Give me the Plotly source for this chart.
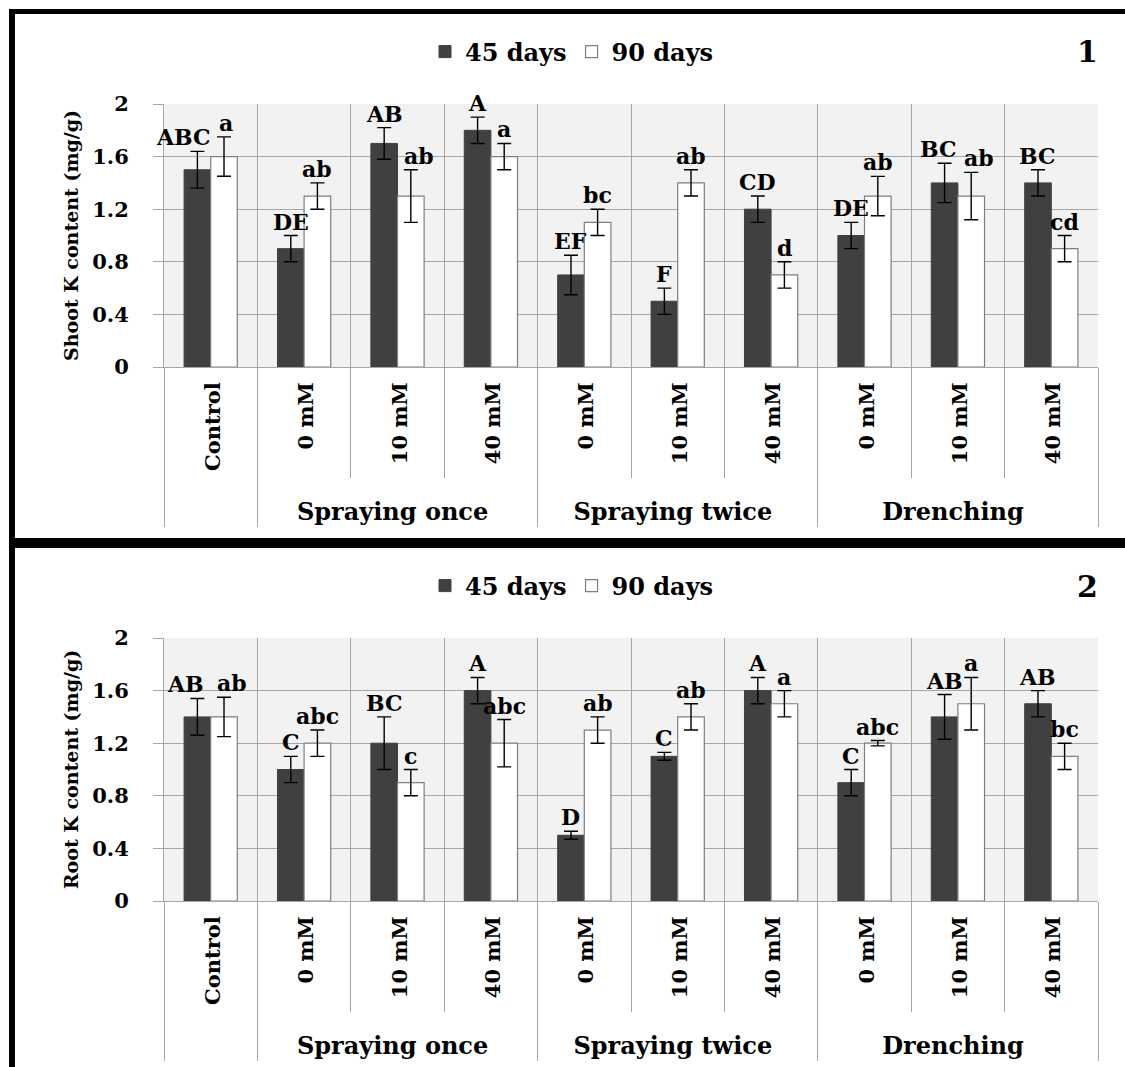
import plotly.graph_objects as go

# ---------------- data ----------------
groups = [" ", "Spraying once", "Spraying once", "Spraying once",
          "Spraying twice", "Spraying twice", "Spraying twice",
          "Drenching", "Drenching", "Drenching"]
treatments = ["Control", "0 mM", "10 mM", "40 mM",
              "0 mM", "10 mM", "40 mM",
              "0 mM", "10 mM", "40 mM"]
series_names = ["45 days", "90 days"]

shoot_45 = [1.5, 0.9, 1.7, 1.8, 0.7, 0.5, 1.2, 1.0, 1.4, 1.4]
shoot_45_err = [0.14, 0.1, 0.12, 0.1, 0.15, 0.1, 0.1, 0.1, 0.15, 0.1]
shoot_90 = [1.6, 1.3, 1.3, 1.6, 1.1, 1.4, 0.7, 1.3, 1.3, 0.9]
shoot_90_err = [0.15, 0.1, 0.2, 0.1, 0.1, 0.1, 0.1, 0.15, 0.18, 0.1]
shoot_45_letters = ["ABC", "DE", "AB", "A", "EF", "F", "CD", "DE", "BC", "BC"]
shoot_90_letters = ["a", "ab", "ab", "a", "bc", "ab", "d", "ab", "ab", "cd"]

root_45 = [1.4, 1.0, 1.2, 1.6, 0.5, 1.1, 1.6, 0.9, 1.4, 1.5]
root_45_err = [0.14, 0.1, 0.2, 0.1, 0.03, 0.03, 0.1, 0.1, 0.17, 0.1]
root_90 = [1.4, 1.2, 0.9, 1.2, 1.3, 1.4, 1.5, 1.2, 1.5, 1.1]
root_90_err = [0.15, 0.1, 0.1, 0.18, 0.1, 0.1, 0.1, 0.02, 0.2, 0.1]
root_45_letters = ["AB", "C", "BC", "A", "D", "C", "A", "C", "AB", "AB"]
root_90_letters = ["ab", "abc", "c", "abc", "ab", "ab", "a", "abc", "a", "bc"]

y_titles = ["Shoot K content (mg/g)", "Root K content (mg/g)"]
panel_labels = ["1", "2"]

# ---------------- layout constants ----------------
W, H = 1125, 1067
L, R = 164, 27
FONT = "DejaVu Serif"
DARK = "#404040"
GRID = "#a6a6a6"
BARGAP = 0.43

def py(p):  # pixel y -> paper
    return 1 - p / H

def px(p):  # pixel x -> paper
    return (p - L) / (W - L - R)

# small horizontal nudges (px) for letters that would collide: (panel, series, index)
nudges = {(0, 0, 0): -14, (0, 1, 0): 2, (0, 1, 2): 8, (0, 0, 8): -6, (0, 1, 8): 8,
          (1, 0, 0): -12, (1, 1, 0): 8}

panels = [
    dict(xa="x", ya="y", lg="legend", dom=[py(367), py(104)],
         v=[shoot_45, shoot_90], e=[shoot_45_err, shoot_90_err],
         t=[shoot_45_letters, shoot_90_letters], legy=py(52)),
    dict(xa="x2", ya="y2", lg="legend2", dom=[py(901), py(638)],
         v=[root_45, root_90], e=[root_45_err, root_90_err],
         t=[root_45_letters, root_90_letters], legy=py(586)),
]

# label sizes set per level (outer groups larger than inner treatments)
group_labels = [f"<span style='font-size:24px'>{g}</span>" for g in groups]
treat_labels = [f"<span style='font-size:21px'>{t}</span>" for t in treatments]

fig = go.Figure()
annotations = []
off = (1 - BARGAP) / 4
for k, p in enumerate(panels):
    styles = [dict(color=DARK, line=dict(color=DARK, width=1)),
              dict(color="white", line=dict(color="#7f7f7f", width=1.2))]
    for s in range(2):
        fig.add_trace(go.Bar(
            x=[group_labels, treat_labels], y=p["v"][s], name=series_names[s],
            marker=styles[s],
            error_y=dict(type="data", array=p["e"][s], color="black",
                         thickness=1.4, width=7),
            xaxis=p["xa"], yaxis=p["ya"], legend=p["lg"],
            showlegend=True,
        ))
        for i, (val, err, txt) in enumerate(zip(p["v"][s], p["e"][s], p["t"][s])):
            annotations.append(dict(
                x=i + (-off if s == 0 else off), y=val + err, text=txt,
                xref=p["xa"], yref=p["ya"], showarrow=False,
                yanchor="bottom", yshift=-1, xshift=nudges.get((k, s, i), 0),
                font=dict(family=FONT, size=22, color="black", weight="bold"),
            ))
    annotations.append(dict(
        x=px(1087), y=p["legy"], xref="paper", yref="paper",
        text=panel_labels[k], showarrow=False, xanchor="center", yanchor="middle",
        font=dict(family=FONT, size=30, color="black", weight="bold")))

axis_font = dict(family=FONT, size=28, color="black", weight="bold")
xaxis_common = dict(
    type="multicategory", tickangle=-90, range=[-0.5, 9.5],
    showgrid=True, gridcolor=GRID, gridwidth=1,
    tickson="boundaries", ticks="outside", ticklen=110, tickcolor=GRID, tickwidth=1,
    ticklabelstandoff=3,
    showline=True, linecolor=GRID, linewidth=1,
    showdividers=True, dividercolor=GRID, dividerwidth=1,
    tickfont=axis_font, automargin=False,
)
yaxis_common = dict(
    range=[0, 2], dtick=0.4, tick0=0, showgrid=True, gridcolor=GRID, gridwidth=1,
    ticks="outside", ticklen=10, tickcolor=GRID, showline=True, linecolor=GRID,
    tickfont=dict(family=FONT, size=21, color="black", weight="bold"),
    ticklabelstandoff=20,
    zeroline=False, automargin=False,
)

legend_common = dict(
    orientation="h", xanchor="center", yanchor="middle", x=px(572),
    font=dict(family=FONT, size=24, color="black", weight="bold"),
    itemwidth=30, bgcolor="rgba(0,0,0,0)", traceorder="normal",
)

shapes = [
    dict(type="rect", xref="paper", yref="paper", x0=px(9), x1=px(W + 5), y0=py(14), y1=py(9),
         fillcolor="black", line=dict(width=0)),
    dict(type="rect", xref="paper", yref="paper", x0=px(9), x1=px(15), y0=py(H + 5), y1=py(9),
         fillcolor="black", line=dict(width=0)),
    dict(type="rect", xref="paper", yref="paper", x0=px(9), x1=px(W + 5), y0=py(548), y1=py(538),
         fillcolor="black", line=dict(width=0)),
]

title_font = dict(family=FONT, size=19, color="black", weight="bold")
fig.update_layout(
    width=W, height=H,
    margin=dict(l=L, r=R, t=0, b=0, autoexpand=False),
    paper_bgcolor="white", plot_bgcolor="#f2f2f2",
    barmode="group", bargap=BARGAP, bargroupgap=0,
    xaxis=dict(anchor="y", domain=[0, 1], **xaxis_common),
    xaxis2=dict(anchor="y2", domain=[0, 1], **xaxis_common),
    yaxis=dict(anchor="x", domain=panels[0]["dom"],
               title=dict(text=y_titles[0], standoff=8, font=title_font),
               **yaxis_common),
    yaxis2=dict(anchor="x2", domain=panels[1]["dom"],
                title=dict(text=y_titles[1], standoff=8, font=title_font),
                **yaxis_common),
    legend=dict(y=panels[0]["legy"], **legend_common),
    legend2=dict(y=panels[1]["legy"], **legend_common),
    annotations=annotations,
    shapes=shapes,
)

fig.write_html("out.html")
